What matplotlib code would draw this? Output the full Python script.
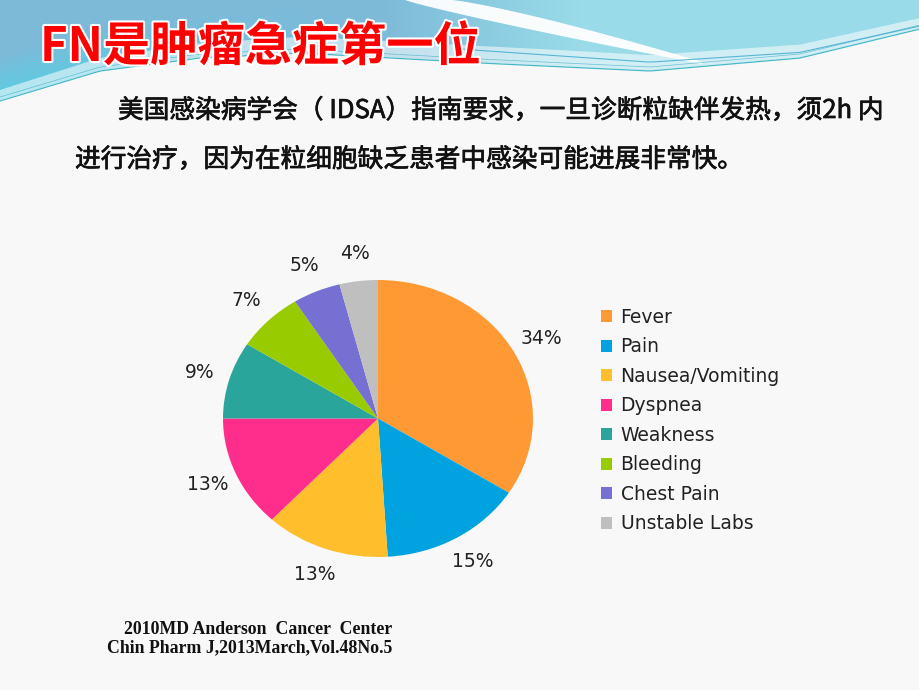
import numpy as np
import matplotlib
matplotlib.use("Agg")
import matplotlib.pyplot as plt
import matplotlib.patheffects as pe
from matplotlib.patches import Polygon

# --- Daten ---
categories = ["Fever", "Pain", "Nausea/Vomiting", "Dyspnea", "Weakness",
              "Bleeding", "Chest Pain", "Unstable Labs"]
shares = [34, 15, 13, 13, 9, 7, 5, 4]
colors = ["#ff9933", "#00a3df", "#ffbe2c", "#ff2e8c", "#2aa59c",
          "#99cc00", "#7570d2", "#bfbfbf"]

title = "FN是肿瘤急症第一位"
line1 = "美国感染病学会（ IDSA）指南要求，一旦诊断粒缺伴发热，须2h 内"
line2 = "进行治疗，因为在粒细胞缺乏患者中感染可能进展非常快。"
source1 = "2010MD Anderson  Cancer  Center"
source2 = "Chin Pharm J,2013March,Vol.48No.5"

CJK = ["Noto Sans CJK SC", "DejaVu Sans"]

fig = plt.figure(figsize=(9.2, 6.9), dpi=100)
fig.patch.set_facecolor("#f8f8f8")

# Hintergrund-Achse in Pixelkoordinaten
bg = fig.add_axes([0, 0, 1, 1])
bg.set_xlim(0, 920)
bg.set_ylim(690, 0)
bg.axis("off")

# === blaues Band oben ===
bx = [0, 100, 200, 300, 480, 650, 800, 920]
by = [100, 70, 57, 52, 62, 70, 57, 28]
xs = np.linspace(0, 920, 200)
lower = np.interp(xs, bx, by)
band = np.vstack([np.column_stack([xs, lower]), [[920, 0], [0, 0]]])

W, H = 460, 55
px, py = np.meshgrid(np.linspace(0, 920, W), np.linspace(0, 110, H))
steel = np.array([0.49, 0.73, 0.85])
light = np.array([0.60, 0.86, 0.91])
cyan = np.array([0.35, 0.81, 0.89])
wx = np.clip((px - 380) / 200, 0, 1)[..., None]
base = steel * (1 - wx) + light * wx
edge = np.interp(px, bx, by)
wy = np.clip(1 - (edge - py) / 45, 0, 1)[..., None] * np.clip(1 - px / 400, 0, 1)[..., None]
img = base * (1 - wy) + cyan * wy
im = bg.imshow(img, extent=[0, 920, 110, 0], aspect="auto", zorder=0)
clip = Polygon(band, closed=True, transform=bg.transData, facecolor="none", edgecolor="none")
bg.add_patch(clip)
im.set_clip_path(clip)

# heller Streifen knapp ueber dem Rand
bg.fill_between(xs, lower - 10 - 6 * np.sin(np.pi * xs / 920), lower,
                color="white", alpha=0.55, lw=0, zorder=1)

# grosser weisser Schwung von oben
t = np.linspace(0, 1, 80)
up_x = 452 + 250 * t
up_y = 62 * t ** 1.2
lo_x = 405 + 297 * t
lo_y = 64 * t ** 0.9
swoosh = np.vstack([np.column_stack([up_x, up_y]), np.column_stack([lo_x, lo_y])[::-1]])
bg.add_patch(Polygon(swoosh, closed=True, facecolor="white", edgecolor="none",
                     alpha=0.95, zorder=1))

# feine Linien am Rand
bg.plot(xs, lower + 1, color="#45b8c9", lw=0.9, zorder=1)
bg.plot(xs, lower - 3, color="#2aa3bf", lw=0.5, alpha=0.6, zorder=1)
bg.plot(xs[100:], lower[100:] - 12 + 10 * (xs[100:] - 460) / 460, color="#3aa6cf",
        lw=0.8, alpha=0.8, zorder=1)

# Titel
bg.text(40, 47, title, fontsize=34, fontweight="bold", color="#ff0000",
        family=CJK, ha="left", va="center", zorder=3,
        path_effects=[pe.withStroke(linewidth=3, foreground="white")])

# Fliesstext (etwas kraeftiger wie im Original)
heavy = [pe.withStroke(linewidth=0.5, foreground="#111111")]
bg.text(118, 111, line1, fontsize=18.5, color="#111111",
        family=CJK, ha="left", va="center", zorder=3, path_effects=heavy)
bg.text(75, 160, line2, fontsize=18.5, color="#111111",
        family=CJK, ha="left", va="center", zorder=3, path_effects=heavy)

# Quellen
bg.text(392, 629, source1, fontsize=12.8, fontweight="bold", color="#111111",
        family="Liberation Serif", ha="right", va="center", zorder=3)
bg.text(392, 648, source2, fontsize=12.8, fontweight="bold", color="#111111",
        family="Liberation Serif", ha="right", va="center", zorder=3)

# === Kreisdiagramm (leicht elliptisch wie im Original) ===
ax = fig.add_axes([223 / 920, 1 - 557 / 690, 310 / 920, 277 / 690])
wedges, _, autotexts = ax.pie(shares, colors=colors, startangle=90, counterclock=False,
                              radius=1.0, autopct="%d%%", pctdistance=1.2,
                              wedgeprops=dict(linewidth=0),
                              textprops=dict(fontsize=13.5, color="#222222"))
ax.set_aspect("auto")
ax.set_xlim(-1, 1)
ax.set_ylim(-1, 1)
ax.axis("off")

leg = fig.legend(wedges, categories, loc="upper left",
                 bbox_to_anchor=(584 / 920, 1 - 291 / 690), frameon=False,
                 fontsize=13.5, handlelength=0.6, handleheight=0.6,
                 handletextpad=0.45, labelspacing=0.56)
for txt in leg.get_texts():
    txt.set_color("#222222")

fig.savefig("out.png", dpi=100, facecolor=fig.get_facecolor())
